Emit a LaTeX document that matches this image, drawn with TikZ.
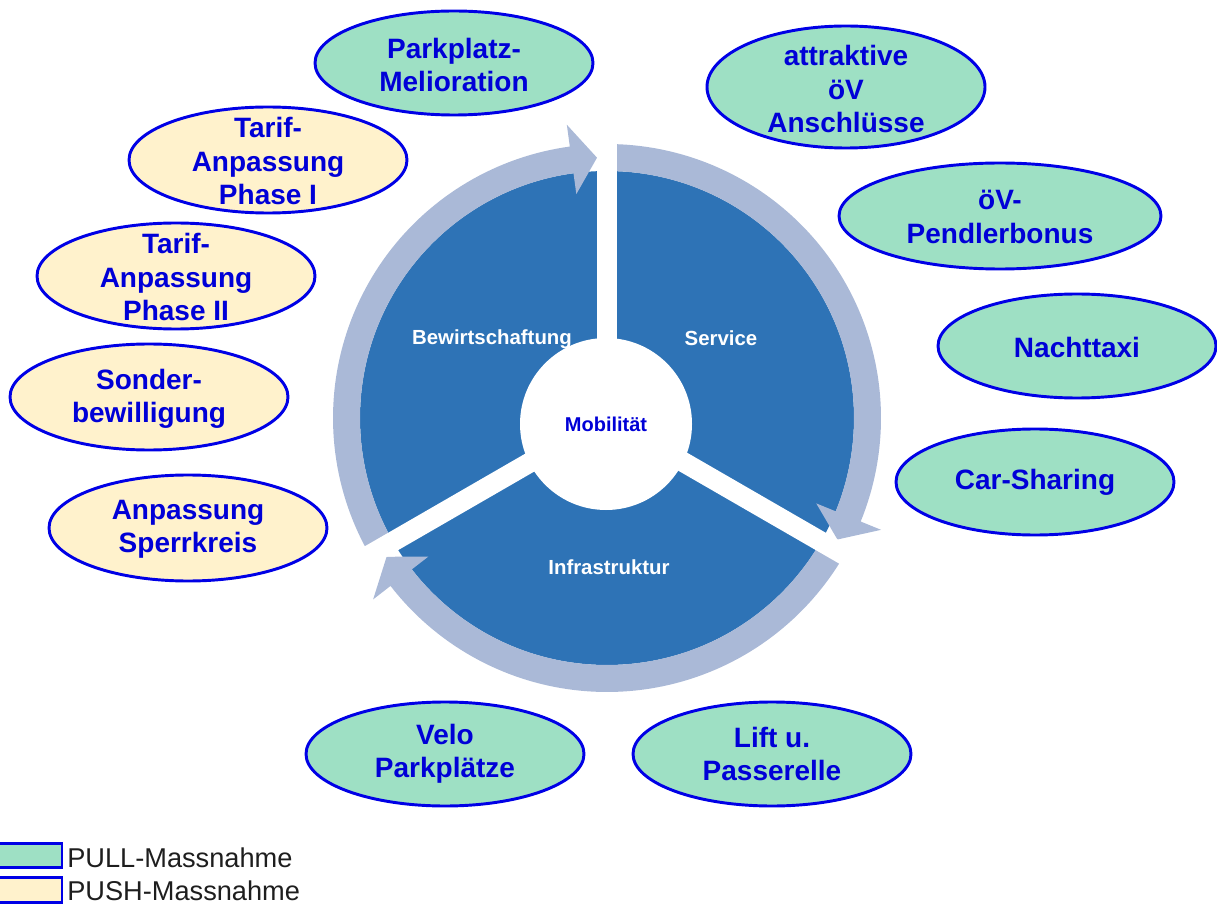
\documentclass[tikz,border=0pt]{standalone}
\usepackage{fontspec}
\setmainfont{Liberation Sans}
\usetikzlibrary{shapes.geometric}
\definecolor{diskblue}{RGB}{46,115,182}
\definecolor{ringcol}{RGB}{170,185,215}
\definecolor{pullgreen}{RGB}{158,224,196}
\definecolor{pushyellow}{RGB}{255,242,204}
\definecolor{bordblue}{RGB}{0,0,230}
\definecolor{textblue}{RGB}{0,0,215}
\definecolor{legtext}{RGB}{30,30,30}
\newcommand\ringarrow[2]{%
  \pgfmathsetmacro\rA{#1}\pgfmathsetmacro\rT{#2}\pgfmathsetmacro\rB{#2-5.6}%
  \fill[ringcol] plot[domain=\rA:\rB,samples=80] ({607+274*cos(\x)},{418+274*sin(\x)})
    -- ({607+296*cos(\rB)},{418+296*sin(\rB)})
    -- ({607+260.5*cos(\rT)},{418+260.5*sin(\rT)})
    -- ({607+226*cos(\rB)},{418+226*sin(\rB)})
    -- plot[domain=\rB:\rA,samples=80] ({607+247*cos(\x)},{418+247*sin(\x)}) -- cycle;}
\begin{document}
\begin{tikzpicture}[x=0.75pt,y=-0.75pt,
  ell/.style 2 args={ellipse, draw=bordblue, line width=2.2pt, inner sep=0pt,
     minimum width=#1*1.5pt, minimum height=#2*1.5pt},
  pull/.style={fill=pullgreen},
  push/.style={fill=pushyellow},
  etext/.style={text=textblue, font=\fontsize{21}{25}\selectfont\bfseries, align=center, inner sep=0pt},
  seclabel/.style={text=white, font=\fontsize{15.3}{18}\selectfont\bfseries, inner sep=0pt},
  gapband/.style={draw=white, line width=15pt},
  legbox/.style={draw=bordblue, line width=2.2pt, minimum width=48pt, minimum height=18.5pt, inner sep=0pt},
  legtxt/.style={text=legtext, font=\fontsize{20.4}{23}\selectfont, anchor=west, inner sep=0pt}]
\useasboundingbox (0,0) rectangle (1217,905);

% central wheel
\coordinate (C) at (607,418);
\fill[diskblue] (C) circle[radius=185.25pt];
\ringarrow{150}{267.8}
\ringarrow{270}{387.8}
\ringarrow{30}{147.8}
\node[seclabel] (bew) at (492,339) {Bewirtschaftung};
\node[seclabel] (serv) at (721,338) {Service};
\node[seclabel] (infra) at (609,567) {Infrastruktur};
\coordinate (g1) at ({607+310*cos(270)},{418+310*sin(270)});
\coordinate (g2) at ({607+300*cos(30)},{418+300*sin(30)});
\coordinate (g3) at ({607+300*cos(150)},{418+300*sin(150)});
\draw[gapband] (C) -- (g1);
\draw[gapband] (C) -- (g2);
\draw[gapband] (C) -- (g3);
\node[circle, fill=white, minimum size=129pt, inner sep=0pt, text=textblue,
      font=\fontsize{15}{18}\selectfont\bfseries] (mob) at (606,424) {Mobilität};

% ellipses
\node[ell={139}{52}, pull] (e1) at (454,63) {};
\node[etext] (t1) at (454,65) {Parkplatz-\\Melioration};
\node[ell={139}{53}, push] (e2) at (268,160) {};
\node[etext] (t2) at (268,161) {Tarif-\\Anpassung\\Phase I};
\node[ell={139}{53}, push] (e3) at (176,276) {};
\node[etext] (t3) at (176,277) {Tarif-\\Anpassung\\Phase II};
\node[ell={139}{53}, push] (e4) at (149,397) {};
\node[etext] (t4) at (149,399) {Sonder-\\bewilligung};
\node[ell={139}{53}, push] (e5) at (188,528) {};
\node[etext] (t5) at (188,529) {Anpassung\\Sperrkreis};
\node[ell={139}{61}, pull] (e6) at (846,87) {};
\node[etext] (t6) at (846,89) {attraktive\\öV\\Anschlüsse};
\node[ell={161}{53}, pull] (e7) at (1000,216) {};
\node[etext] (t7) at (1000,217) {öV-\\Pendlerbonus};
\node[ell={139}{52}, pull] (e8) at (1077,346) {};
\node[etext] (t8) at (1077,347) {Nachttaxi};
\node[ell={139}{53}, pull] (e9) at (1035,482) {};
\node[etext] (t9) at (1035,482) {Car-Sharing};
\node[ell={139}{52}, pull] (e10) at (445,754) {};
\node[etext] (t10) at (445,754) {Velo\\Parkplätze};
\node[ell={139}{52}, pull] (e11) at (772,754) {};
\node[etext] (t11) at (772,754) {Lift u.\\Passerelle};

% legend
\node[legbox, pull] (lg1) at (30,855.5) {};
\node[legtxt] (lt1) at (67,858) {PULL-Massnahme};
\node[legbox, push] (lg2) at (30,890) {};
\node[legtxt] (lt2) at (67,891) {PUSH-Massnahme};
\end{tikzpicture}
\end{document}
